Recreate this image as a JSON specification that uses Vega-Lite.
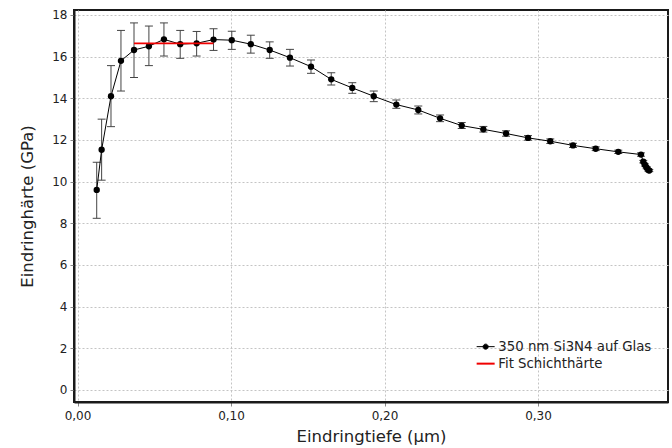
{
  "$schema": "https://vega.github.io/schema/vega-lite/v6.json",
  "width": 594,
  "height": 392,
  "autosize": "none",
  "padding": {"left": 74, "top": 10, "right": 4, "bottom": 46},
  "background": "white",
  "config": {
    "font": "DejaVu Sans",
    "view": {"stroke": "#1a1a1a", "strokeWidth": 2},
    "axis": {
      "labelFont": "DejaVu Sans",
      "titleFont": "DejaVu Sans",
      "labelFontSize": 12,
      "titleFontSize": 16.5,
      "titleFontWeight": "normal",
      "labelColor": "#222",
      "titleColor": "#222",
      "domainColor": "#1a1a1a",
      "domainWidth": 2,
      "tickColor": "#888",
      "tickSize": 4,
      "gridColor": "#c4c4c4",
      "gridDash": [2, 2],
      "gridWidth": 1
    },
    "legend": {"labelFont": "DejaVu Sans", "labelFontSize": 13.3, "labelColor": "#222"}
  },
  "datasets": {
    "mess": [
      {"t": 0.0125, "h": 9.6, "lo": 8.24, "hi": 10.93},
      {"t": 0.0157, "h": 11.53, "lo": 10.07, "hi": 13.0},
      {"t": 0.0218, "h": 14.1, "lo": 12.64, "hi": 15.57},
      {"t": 0.0283, "h": 15.8, "lo": 14.35, "hi": 17.26},
      {"t": 0.0368, "h": 16.32, "lo": 15.0, "hi": 17.62},
      {"t": 0.0465, "h": 16.5, "lo": 15.57, "hi": 17.47},
      {"t": 0.0563, "h": 16.83, "lo": 16.03, "hi": 17.62},
      {"t": 0.0669, "h": 16.6, "lo": 15.92, "hi": 17.26},
      {"t": 0.0776, "h": 16.64, "lo": 16.03, "hi": 17.21},
      {"t": 0.0886, "h": 16.82, "lo": 16.3, "hi": 17.34},
      {"t": 0.1005, "h": 16.79, "lo": 16.35, "hi": 17.22},
      {"t": 0.1129, "h": 16.6, "lo": 16.17, "hi": 17.03},
      {"t": 0.1252, "h": 16.32, "lo": 15.92, "hi": 16.71},
      {"t": 0.1384, "h": 15.95, "lo": 15.55, "hi": 16.35},
      {"t": 0.1521, "h": 15.52, "lo": 15.2, "hi": 15.84},
      {"t": 0.1653, "h": 14.91, "lo": 14.64, "hi": 15.23},
      {"t": 0.179, "h": 14.5, "lo": 14.24, "hi": 14.75},
      {"t": 0.193, "h": 14.1, "lo": 13.84, "hi": 14.35},
      {"t": 0.2077, "h": 13.7, "lo": 13.52, "hi": 13.92},
      {"t": 0.222, "h": 13.44, "lo": 13.25, "hi": 13.63},
      {"t": 0.2362, "h": 13.04, "lo": 12.88, "hi": 13.2},
      {"t": 0.2503, "h": 12.69, "lo": 12.55, "hi": 12.84},
      {"t": 0.2644, "h": 12.51, "lo": 12.38, "hi": 12.65},
      {"t": 0.2792, "h": 12.31, "lo": 12.18, "hi": 12.44},
      {"t": 0.2935, "h": 12.1, "lo": 11.99, "hi": 12.21},
      {"t": 0.308, "h": 11.94, "lo": 11.83, "hi": 12.05},
      {"t": 0.3228, "h": 11.74, "lo": 11.64, "hi": 11.84},
      {"t": 0.3376, "h": 11.58, "lo": 11.49, "hi": 11.67},
      {"t": 0.3523, "h": 11.43, "lo": 11.35, "hi": 11.51},
      {"t": 0.3671, "h": 11.3, "lo": 11.22, "hi": 11.38},
      {"t": 0.3686, "h": 10.96, "lo": 10.9, "hi": 11.02},
      {"t": 0.3697, "h": 10.8, "lo": 10.75, "hi": 10.85},
      {"t": 0.3708, "h": 10.67, "lo": 10.62, "hi": 10.72},
      {"t": 0.3719, "h": 10.56, "lo": 10.51, "hi": 10.61},
      {"t": 0.3725, "h": 10.53, "lo": 10.48, "hi": 10.58}
    ],
    "fit": [
      {"t": 0.0368, "h": 16.64},
      {"t": 0.0886, "h": 16.64}
    ]
  },
  "encoding": {
    "x": {
      "field": "t",
      "type": "quantitative",
      "scale": {"domain": [-0.0023, 0.3847], "nice": false, "zero": false},
      "axis": {
        "title": "Eindringtiefe (µm)",
        "values": [0, 0.1, 0.2, 0.3],
        "labelExpr": "replace(format(datum.value, '.2f'), '.', ',')",
        "labelPadding": 4,
        "titlePadding": 7
      }
    },
    "y": {
      "field": "h",
      "type": "quantitative",
      "scale": {"domain": [-0.58, 18.24], "nice": false, "zero": false},
      "axis": {
        "title": "Eindringhärte (GPa)",
        "values": [0, 2, 4, 6, 8, 10, 12, 14, 16, 18],
        "labelPadding": 3,
        "titlePadding": 16
      }
    }
  },
  "layer": [
    {
      "data": {"name": "mess"},
      "mark": {"type": "errorbar", "ticks": {"size": 8, "color": "#444"}, "color": "#444", "opacity": 1, "thickness": 1},
      "encoding": {
        "y": {"field": "lo", "type": "quantitative"},
        "y2": {"field": "hi"}
      }
    },
    {
      "data": {"name": "mess"},
      "transform": [{"calculate": "'350 nm Si3N4 auf Glas'", "as": "serie"}],
      "mark": {"type": "line", "strokeWidth": 1, "color": "black"},
      "encoding": {
        "color": {
          "field": "serie",
          "type": "nominal",
          "scale": {"domain": ["350 nm Si3N4 auf Glas", "Fit Schichthärte"], "range": ["black", "#f00000"]},
          "legend": {
            "title": null,
            "orient": "none",
            "legendX": 405,
            "legendY": 330,
            "symbolType": "stroke",
            "symbolSize": 324,
            "symbolStrokeWidth": 1.5,
            "rowPadding": 3,
            "labelOffset": 6,
            "encode": {
              "symbols": {
                "update": {
                  "shape": {"signal": "datum.value === 'Fit Schichthärte' ? 'stroke' : 'M-1,0L1,0M-0.28,0A0.28,0.28,0,1,1,0.28,0A0.28,0.28,0,1,1,-0.28,0Z'"},
                  "fill": {"signal": "datum.value === 'Fit Schichthärte' ? 'transparent' : 'black'"},
                  "strokeWidth": {"signal": "datum.value === 'Fit Schichthärte' ? 2 : 1"}
                }
              }
            }
          }
        }
      }
    },
    {
      "data": {"name": "mess"},
      "mark": {"type": "point", "filled": true, "color": "black", "size": 40, "opacity": 1}
    },
    {
      "data": {"name": "fit"},
      "transform": [{"calculate": "'Fit Schichthärte'", "as": "serie"}],
      "mark": {"type": "line", "strokeWidth": 1.8},
      "encoding": {
        "color": {"field": "serie", "type": "nominal"}
      }
    }
  ]
}
